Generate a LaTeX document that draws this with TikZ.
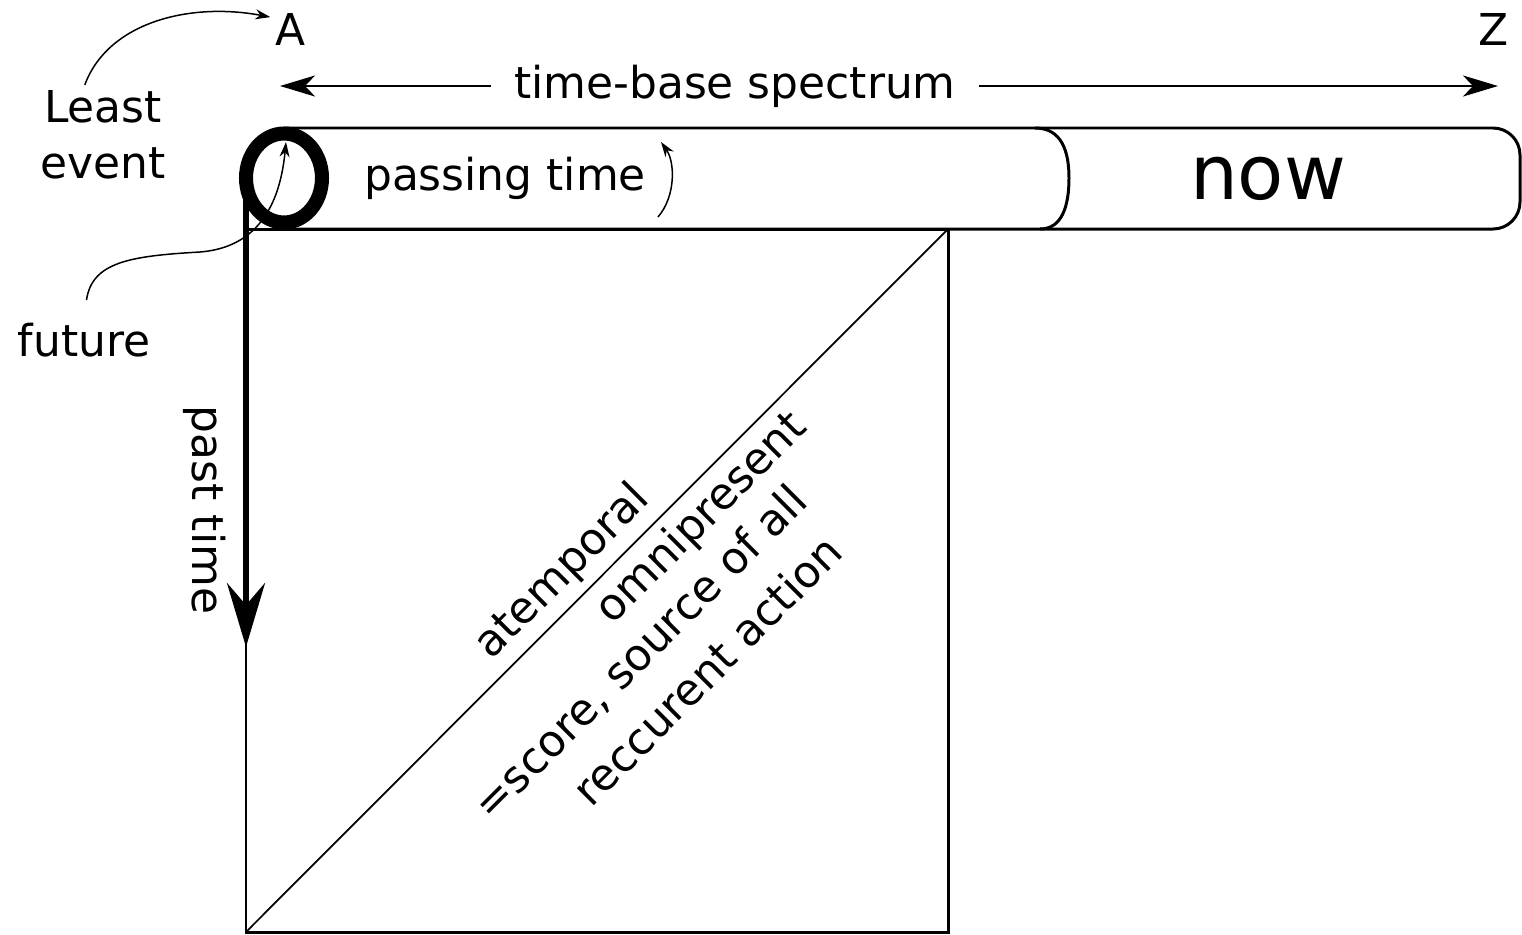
\documentclass[tikz,border=0pt]{standalone}
\usepackage{fontspec}
\setmainfont{DejaVu Sans}
\usetikzlibrary{arrows.meta,shapes.geometric}

\begin{document}
\begin{tikzpicture}[
  x=0.02cm, y=-0.02cm,
  lbl/.style={font=\fontsize{25}{32}\selectfont, inner sep=3pt},
  diag/.style={lbl, rotate=45},
  edge/.style={line width=1.7pt},
  spanarr/.style={-{Stealth[length=0.7cm, width=0.42cm, inset=0.2cm]}, line width=1.7pt},
  thinarr/.style={-{Stealth[length=0.3cm, width=0.2cm]}, line width=0.85pt},
  pastarr/.style={-{Stealth[length=1.28cm, width=0.76cm, inset=0.44cm]}, line width=3.4pt}
]
\useasboundingbox (0,0) rectangle (1522,934);

% bar of time
\draw[edge, rounded corners=0.54cm] (284,128) -- (1520,128) -- (1520,229) -- (284,229);
\draw[edge] (1035,128) .. controls (1062,128) and (1069,152) .. (1069,178)
  .. controls (1069,206) and (1062,229) .. (1040,229);

% square and diagonal
\draw[edge] (246,229) rectangle (948,932);
\draw[line width=1pt] (246,932) -- (948,229);

\node[ellipse, draw, line width=8pt, minimum width=1.52cm, minimum height=1.78cm,
  inner sep=0pt, outer sep=0pt] (least) at (284,178) {};

% labels
\node[lbl] (capA) at (291,29) {A};
\node[lbl] (capZ) at (1494,29) {Z};
\node[lbl, inner xsep=0.45cm] (spec) at (735,86) {time-base spectrum};
\node[lbl, align=center] (leastev) at (103,135) {Least\\event};
\node[lbl] (future) at (84,340) {future};
\node[lbl] (pass) at (505,178) {passing time};
\node[font=\fontsize{43}{50}\selectfont] (now) at (1268,179) {now};
\node[lbl, rotate=-90] (past) at (205,510) {past time};

\node[diag] (atemp) at (563,572) {atemporal};
\node[diag] (omni) at (702,519) {omnipresent};
\node[diag] (score) at (641,653) {=score, source of all};
\node[diag] (recur) at (707,670) {reccurent action};

\coordinate (pastend) at (246,647);
\coordinate (lev) at (286,142);
\coordinate (aend) at (280,86);
\coordinate (zend) at (1498,86);
\coordinate (ptlow) at (658,217);
\coordinate (pthigh) at (661,142);

% arrows
\draw[pastarr] (least.west) -- (pastend);
\draw[spanarr] (spec.west) -- (aend);
\draw[spanarr] (spec.east) -- (zend);
\draw[thinarr] (leastev.110) .. controls (108,22) and (190,2) .. (capA.150);
\draw[thinarr, shorten <=0.35cm] (future.north) .. controls (92,262) and (130,256) .. (200,252)
  .. controls (250,248) and (279,215) .. (lev);
\draw[thinarr] (ptlow) .. controls (676,196) and (675,162) .. (pthigh);
\end{tikzpicture}
\end{document}
